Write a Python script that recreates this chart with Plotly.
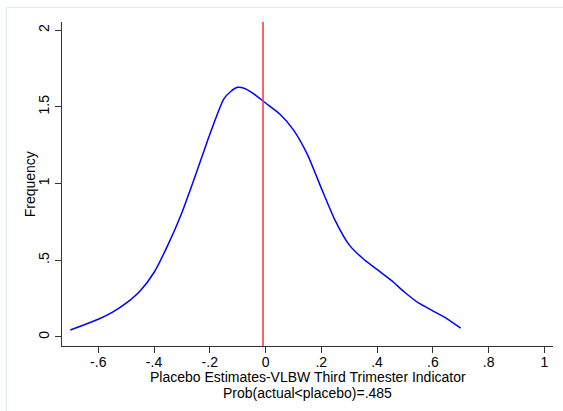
import plotly.graph_objects as go

# kernel density of placebo estimates
est_x = [-0.70, -0.65, -0.60, -0.55, -0.50, -0.45, -0.40, -0.35, -0.30, -0.25,
         -0.20, -0.15, -0.125, -0.10, -0.075, -0.05, 0.00, 0.05, 0.10, 0.15,
         0.20, 0.25, 0.30, 0.35, 0.40, 0.45, 0.50, 0.55, 0.60, 0.65, 0.70]
density = [0.045, 0.08, 0.115, 0.16, 0.22, 0.30, 0.42, 0.60, 0.81, 1.06,
           1.32, 1.55, 1.60, 1.627, 1.62, 1.595, 1.525, 1.455, 1.35, 1.19,
           0.97, 0.758, 0.60, 0.51, 0.44, 0.37, 0.29, 0.22, 0.17, 0.12, 0.057]
actual_estimate = -0.009

x_ticks = [-0.6, -0.4, -0.2, 0, 0.2, 0.4, 0.6, 0.8, 1]
x_labels = ['-.6', '-.4', '-.2', '0', '.2', '.4', '.6', '.8', '1']
y_ticks = [0, 0.5, 1, 1.5, 2]
y_labels = ['0', '.5', '1', '1.5', '2']

x_title = 'Placebo Estimates-VLBW Third Trimester Indicator'
x_note = 'Prob(actual&lt;placebo)=.485'
y_title = 'Frequency'

font = dict(family='Liberation Sans, Arial, sans-serif', size=14, color='black')

fig = go.Figure()
fig.add_trace(go.Scatter(x=est_x, y=density, mode='lines',
                         line=dict(color='#0000ff', width=1.5, shape='spline', smoothing=0.6),
                         showlegend=False))
fig.add_shape(type='line', xref='x', yref='paper', x0=actual_estimate, x1=actual_estimate,
              y0=0, y1=1, line=dict(color='#ff3030', width=1.5))
# outer graph-region frame
fig.add_shape(type='rect', xref='paper', yref='paper', x0=-0.1134, x1=1.3, y0=-0.4, y1=1.0454,
              line=dict(color='#dde7e7', width=1), layer='below')

fig.add_annotation(text=x_title, xref='paper', yref='paper', x=0.5, y=-0.0950,
                   showarrow=False, xanchor='center', yanchor='middle', font=font)
fig.add_annotation(text=x_note, xref='paper', yref='paper', x=0.5, y=-0.1440,
                   showarrow=False, xanchor='center', yanchor='middle', font=font)
fig.add_annotation(text=y_title, xref='paper', yref='paper', x=-0.0646, y=0.5,
                   textangle=-90, showarrow=False, xanchor='center', yanchor='middle', font=font)

axis_common = dict(showgrid=False, zeroline=False, showline=True, linecolor='#333333',
                   linewidth=1, ticks='outside', ticklen=6, tickcolor='#333333',
                   automargin=False, tickfont=font)

fig.update_layout(
    width=563, height=411,
    margin=dict(l=62, r=10, t=22, b=65),
    paper_bgcolor='white', plot_bgcolor='white',
    font=font,
    xaxis=dict(range=[-0.730, 1.031], tickvals=x_ticks, ticktext=x_labels,
               ticklabelstandoff=-3, **axis_common),
    yaxis=dict(range=[-0.059, 2.053], tickvals=y_ticks, ticktext=y_labels,
               tickangle=-90, **axis_common),
)

fig.write_html("out.html", config={'displayModeBar': False},
               post_script="document.body.style.margin='0';")
